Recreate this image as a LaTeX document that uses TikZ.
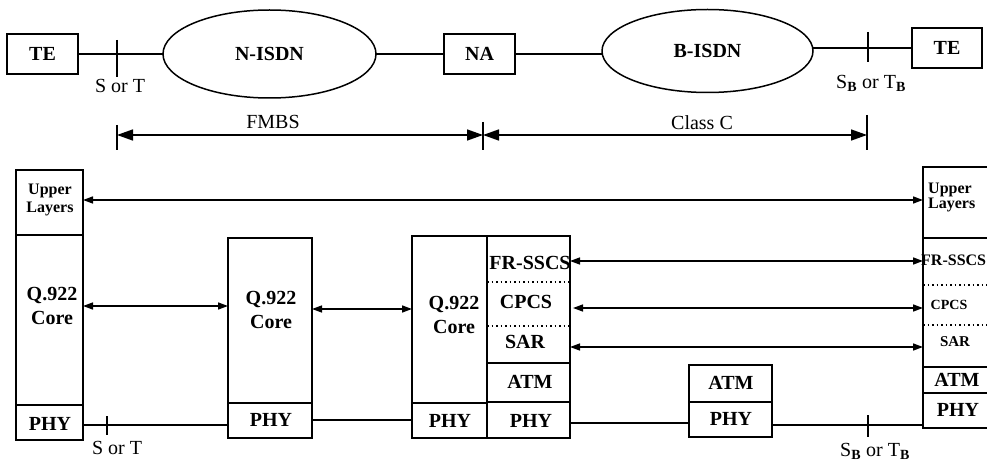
\documentclass[tikz,border=0pt]{standalone}
\usepackage{fontspec}
\setmainfont{Liberation Serif}
\usetikzlibrary{arrows.meta,shapes.geometric}
\tikzset{
  box/.style={draw, line width=1.5pt, inner sep=0pt, outer sep=0pt},
  oval/.style={draw, ellipse, line width=1.5pt, inner sep=0pt, outer sep=0pt},
  lb/.style={font=\bfseries\fontsize{20}{24}\selectfont, align=center, inner sep=0pt},
  tx/.style={font=\fontsize{20}{24}\selectfont, inner sep=0pt},
  ln/.style={line width=1.5pt},
  pa/.style={line width=1.5pt, {Triangle[length=10pt,width=7pt]}-{Triangle[length=10pt,width=7pt]}},
  dimarrow/.style={line width=1.5pt, {Triangle[length=16pt,width=11pt]}-{Triangle[length=16pt,width=11pt]}},
  dotline/.style={line width=1.3pt, dash pattern=on 1.5pt off 3pt},
}
\newcommand\subB{\textsubscript{\textbf{B}}}
\begin{document}
\begin{tikzpicture}[x=1pt,y=-1pt]
\useasboundingbox (0,0) rectangle (987,462);
\clip (0,0) rectangle (987,462);

% ---------- top row ----------
\node[box, lb, minimum width=71, minimum height=40] (te1) at (42.5,54) {TE};
\node[oval, lb, minimum width=213, minimum height=88] (nisdn) at (269.5,54) {N-ISDN};
\node[box, lb, minimum width=71, minimum height=40] (na) at (479.5,54) {NA};
\node[oval, lb, minimum width=211, minimum height=83] (bisdn) at (707.5,51) {B-ISDN};
\node[box, lb, minimum width=70, minimum height=40] (te2) at (947,48) {TE};

\draw[ln] (te1) -- (nisdn);
\draw[ln] (nisdn) -- (na);
\draw[ln] (na) -- (bisdn.west |- na);
\draw[ln] (bisdn.east |- te2) -- (te2);

\coordinate (st1) at (117,54);
\draw[ln] (st1) ++(0,-14) -- ++(0,37);
\node[tx] (st1l) at (120,86) {S or T};
\coordinate (sb1) at (868,48);
\draw[ln] (sb1) ++(0,-16) -- ++(0,30);
\node[tx] (sb1l) at (871,83) {S\subB{} or T\subB};

% ---------- dimension lines ----------
\coordinate (d1) at (117,135);
\coordinate (d2) at (483,135);
\coordinate (d3) at (867,135);
\draw[ln] (d1) ++(0,-10) -- ++(0,25);
\draw[ln] (d2) ++(0,-13) -- ++(0,28);
\draw[ln] (d3) ++(0,-20) -- ++(0,35);
\draw[dimarrow] (d1) -- (d2);
\draw[dimarrow] (d2) -- (d3);
\node[tx] (fmbs) at (273,122) {FMBS};
\node[tx] (classc) at (702,123) {Class C};

% ---------- stack 1 (TE) ----------
\node[box, minimum width=67, minimum height=65] (ul1) at (49.5,202.5) {};
\node[box, minimum width=67, minimum height=170] (q1) at (49.5,320) {};
\node[box, minimum width=67, minimum height=35] (phy1) at (49.5,422.5) {};
\node[lb, font=\bfseries\fontsize{16}{18}\selectfont] (ul1t) at (50,200) {Upper\\Layers};
\node[lb] (q1t) at (52,306) {Q.922\\Core};
\node[lb] (phy1t) at (50,424) {PHY};

% ---------- stack 2 ----------
\node[box, minimum width=84, minimum height=165] (q2) at (270,320.5) {};
\node[box, minimum width=84, minimum height=35] (phy2) at (270,420.5) {};
\node[lb] (q2t) at (271,310) {Q.922\\Core};
\node[lb] (phy2t) at (271,420) {PHY};

% ---------- stack 3 (NA) ----------
\node[box, minimum width=75, minimum height=167] (q3) at (449.5,319.5) {};
\node[box, minimum width=75, minimum height=35] (phy3l) at (449.5,420.5) {};
\node[box, minimum width=83, minimum height=127] (aal3) at (528.5,299.5) {};
\node[box, minimum width=83, minimum height=39] (atm3) at (528.5,382.5) {};
\node[box, minimum width=83, minimum height=36] (phy3r) at (528.5,420) {};
\draw[dotline] (aal3.west |- 0,282) -- (aal3.east |- 0,282);
\draw[dotline] (aal3.west |- 0,326) -- (aal3.east |- 0,326);
\node[lb] (q3t) at (454,315) {Q.922\\Core};
\node[lb] (phy3lt) at (450,421) {PHY};
\node[lb] (sscs3t) at (530,263) {FR-SSCS};
\node[lb] (cpcs3t) at (526,302) {CPCS};
\node[lb] (sar3t) at (525,342) {SAR};
\node[lb] (atm3t) at (530,382) {ATM};
\node[lb] (phy3rt) at (531,421) {PHY};

% ---------- stack 4 ----------
\node[box, minimum width=83, minimum height=37] (atm4) at (730.5,383.5) {};
\node[box, minimum width=83, minimum height=35] (phy4) at (730.5,419.5) {};
\node[lb] (atm4t) at (731,383) {ATM};
\node[lb] (phy4t) at (731,419) {PHY};

% ---------- stack 5 (TE) ----------
\node[box, minimum width=77, minimum height=71] (ul5) at (961.5,202.5) {};
\node[box, minimum width=77, minimum height=129] (aal5) at (961.5,302.5) {};
\node[box, minimum width=77, minimum height=26] (atm5) at (961.5,380) {};
\node[box, minimum width=77, minimum height=35] (phy5) at (961.5,410.5) {};
\draw[dotline] (aal5.west |- 0,285) -- (aal5.east |- 0,285);
\draw[dotline] (aal5.west |- 0,325) -- (aal5.east |- 0,325);
\node[lb, font=\bfseries\fontsize{16}{15}\selectfont, align=left, anchor=west] (ul5t) at (928,197) {Upper\\Layers};
\node[lb, font=\bfseries\fontsize{16}{18}\selectfont, anchor=west] (sscs5t) at (921,260) {FR-SSCS};
\node[lb, font=\bfseries\fontsize{14}{16}\selectfont] (cpcs5t) at (949,305) {CPCS};
\node[lb, font=\bfseries\fontsize{15}{16}\selectfont] (sar5t) at (955,342) {SAR};
\node[lb] (atm5t) at (957,380) {ATM};
\node[lb] (phy5t) at (958,410) {PHY};

% ---------- peer arrows ----------
\coordinate (yu) at (0,200);
\coordinate (yq1) at (0,306);
\coordinate (yq2) at (0,309);
\coordinate (yf) at (0,261);
\coordinate (yc) at (0,308);
\coordinate (ys) at (0,347);
\draw[pa] (ul1.east |- yu) -- (ul5.west |- yu);
\draw[pa] (q1.east |- yq1) -- (q2.west |- yq1);
\draw[pa] (q2.east |- yq2) -- (q3.west |- yq2);
\draw[pa] (aal3.east |- yf) -- (aal5.west |- yf);
\draw[pa] ([xshift=3pt]aal3.east |- yc) -- (aal5.west |- yc);
\draw[pa] (aal3.east |- ys) -- (aal5.west |- ys);

% ---------- physical links ----------
\coordinate (p1) at (0,425);
\coordinate (p2) at (0,420);
\coordinate (p3) at (0,423);
\coordinate (p4) at (0,425);
\draw[ln] (phy1.east |- p1) -- (phy2.west |- p1);
\draw[ln] (phy2.east |- p2) -- (phy3l.west |- p2);
\draw[ln] (phy3r.east |- p3) -- (phy4.west |- p3);
\draw[ln] (phy4.east |- p4) -- (phy5.west |- p4);

\coordinate (st2) at (107,425);
\draw[ln] (st2) ++(0,-9) -- ++(0,19);
\node[tx] (st2l) at (117,448) {S or T};
\coordinate (sb2) at (868,425);
\draw[ln] (sb2) ++(0,-10) -- ++(0,22);
\node[tx] (sb2l) at (875,451) {S\subB{} or T\subB};
\end{tikzpicture}
\end{document}
